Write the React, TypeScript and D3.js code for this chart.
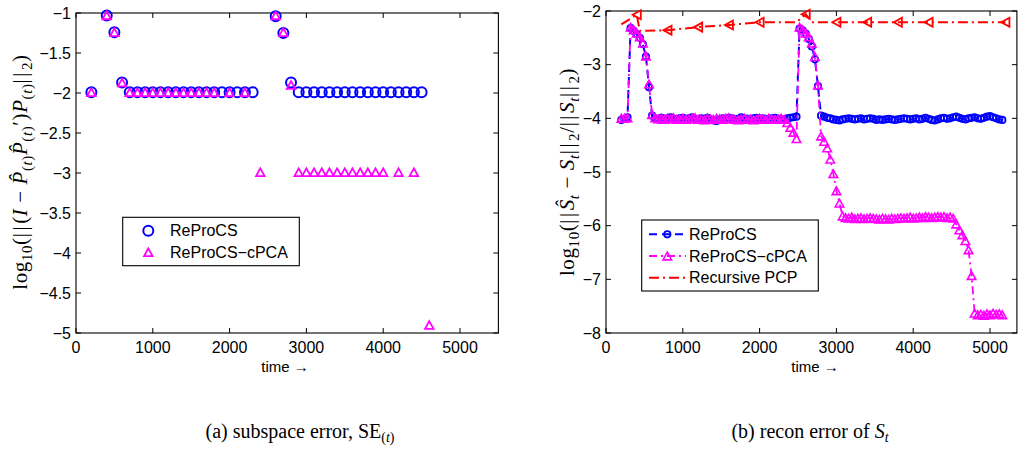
import React from 'react';
import * as d3 from 'd3';

// ---------- Panel (a): subspace error ----------
const seTimesReProCS = [200, 400, 500, 600, 700, 800, 900, 1000, 1100, 1200, 1300, 1400, 1500, 1600, 1700, 1800, 1900, 2000, 2100, 2200, 2300,
  2600, 2700, 2800, 2900, 3000, 3100, 3200, 3300, 3400, 3500, 3600, 3700, 3800, 3900, 4000, 4100, 4200, 4300, 4400, 4500];
const seValsReProCS = [-1.99, -1.03, -1.24, -1.87, -1.99, -1.99, -1.99, -1.99, -1.99, -1.99, -1.99, -1.99, -1.99, -1.99, -1.99, -1.99, -1.99, -1.99, -1.99, -1.99, -1.99,
  -1.04, -1.25, -1.87, -1.99, -1.99, -1.99, -1.99, -1.99, -1.99, -1.99, -1.99, -1.99, -1.99, -1.99, -1.99, -1.99, -1.99, -1.99, -1.99, -1.99];
const seTimesCPCA = [200, 400, 500, 600, 700, 800, 900, 1000, 1100, 1200, 1300, 1400, 1500, 1600, 1700, 1800, 2000, 2200, 2400,
  2600, 2700, 2800, 2900, 3000, 3100, 3200, 3300, 3400, 3500, 3600, 3700, 3800, 3900, 4000, 4200, 4400, 4600];
const seValsCPCA = [-1.99, -1.03, -1.24, -1.87, -1.99, -1.99, -1.99, -1.99, -1.99, -1.99, -1.99, -1.99, -1.99, -1.99, -1.99, -1.99, -1.99, -1.99, -2.99,
  -1.03, -1.24, -1.9, -2.99, -2.99, -2.99, -2.99, -2.99, -2.99, -2.99, -2.99, -2.99, -2.99, -2.99, -2.99, -2.99, -2.99, -4.9];

// ---------- Panel (b): recon error ----------
const reconTimes = d3.range(200, 5161, 40);
const reconReProCS = [
  -4.03, -4.01, -3.98, -2.32, -2.37, -2.43, -2.50, -2.62, -2.85, -3.42, -3.95,
  -4.00, -4.02, -3.99, -4.01, -4.00, -3.98, -4.01, -4.02, -4.00, -3.99,
  -4.01, -4.00, -3.98, -4.01, -4.03, -4.00, -4.01, -3.99, -4.02, -4.04,
  -4.05, -4.02, -4.00, -4.01, -3.99, -4.00, -4.02, -4.01, -3.98, -4.00,
  -4.01, -4.02, -4.00, -3.99, -4.01, -4.00, -4.02, -4.01, -4.00, -3.99,
  -4.01, -4.03, -4.02, -4.00, -3.99, -3.98, -3.97,
  -2.33, -2.36, -2.42, -2.52, -2.66, -2.90, -3.40, -3.95,
  -3.97, -3.99, -4.00, -4.02, -4.03, -4.04, -4.02, -4.01, -4.00, -4.01,
  -4.02, -4.01, -4.00, -4.02, -4.01, -4.00, -4.01, -4.03, -4.02, -4.03,
  -4.02, -4.01, -4.02, -4.03, -4.02, -4.01, -4.00, -4.01, -4.02, -4.01,
  -4.00, -4.02, -4.01, -3.99, -4.01, -4.03, -4.04, -4.02, -4.00, -3.99,
  -4.01, -4.00, -3.98, -3.97, -3.99, -4.01, -4.02, -4.00, -3.99, -3.98,
  -4.00, -4.01, -3.99, -3.97, -3.96, -3.98, -4.00, -4.02, -4.03,
];
const reconCPCA = [
  -4.00, -4.00, -3.99, -2.30, -2.35, -2.41, -2.48, -2.60, -2.84, -3.36, -3.93,
  -3.99, -4.01, -4.00, -4.02, -4.00, -4.01, -3.99, -4.02, -4.01, -4.00,
  -4.02, -4.01, -4.00, -3.99, -4.02, -4.01, -4.03, -4.00, -4.01, -4.02,
  -4.00, -4.01, -4.02, -4.00, -3.99, -4.01, -4.02, -4.03, -4.01, -4.00,
  -4.02, -4.01, -4.03, -4.02, -4.00, -4.01, -4.02, -4.00, -4.01, -4.02,
  -4.01, -4.00, -4.02,
  -4.08, -4.17, -4.26, -4.38,
  -2.30, -2.35, -2.41, -2.48, -2.60, -2.85, -3.38,
  -4.33, -4.43, -4.55, -4.76, -5.03, -5.35, -5.58, -5.82,
  -5.85, -5.86, -5.84, -5.87, -5.86, -5.85, -5.87, -5.86, -5.85, -5.86,
  -5.87, -5.88, -5.86, -5.87, -5.88, -5.86, -5.87, -5.86, -5.85, -5.86,
  -5.85, -5.84, -5.86, -5.85, -5.84, -5.85, -5.83, -5.84, -5.85, -5.84,
  -5.83, -5.84, -5.83, -5.85, -5.84, -5.86,
  -5.97, -6.08, -6.17, -6.28, -6.45, -6.93, -7.63,
  -7.66, -7.65, -7.67, -7.64, -7.66, -7.63, -7.65, -7.64, -7.66,
];
const rpcpTimes = [200, 400, 440, 800, 1200, 1600, 2000, 2480, 2600, 2680, 3000, 3400, 3800, 4200, 5200];
const rpcpVals = [-2.25, -2.07, -2.37, -2.36, -2.30, -2.26, -2.21, -2.21, -2.06, -2.21, -2.21, -2.21, -2.21, -2.21, -2.21];
const rpcpMarkerTimes = [400, 800, 1200, 1600, 2000, 2600, 3000, 3400, 3800, 4200, 5200];

const xTicks = [0, 1000, 2000, 3000, 4000, 5000];
const yTicksA = [-5, -4.5, -4, -3.5, -3, -2.5, -2, -1.5, -1];
const yTicksB = [-8, -7, -6, -5, -4, -3, -2];

const BLUE = '#0000ff';
const MAG = '#ff00ff';
const RED = '#ff0000';
const SANS = '"Liberation Sans", Arial, Helvetica, sans-serif';
const SERIF = '"Liberation Serif", "Times New Roman", serif';

type Pt = { t: number; v: number };
const zip = (ts: number[], vs: number[]): Pt[] => ts.map((t, i) => ({ t, v: vs[i] }));

const fmtTick = (v: number) => String(v).replace('-', '\u2212');

function triUp(s: number) {
  const h = s * 0.9;
  return `M0,${-h / 2}L${s / 2},${h / 2}L${-s / 2},${h / 2}Z`;
}
function triLeft(s: number) {
  const h = s * 0.9;
  return `M${-h / 2},0L${h / 2},${-s / 2}L${h / 2},${s / 2}Z`;
}

function Axes({ x, y, yTicks }: { x: d3.ScaleLinear<number, number>; y: d3.ScaleLinear<number, number>; yTicks: number[] }) {
  const [x0, x1] = x.range();
  const [y0, y1] = y.range(); // y0 bottom, y1 top
  const tl = 5;
  return (
    <g>
      <rect x={x0} y={y1} width={x1 - x0} height={y0 - y1} fill="none" stroke="#000" strokeWidth={1.1} />
      {xTicks.map((t) => (
        <g key={'x' + t}>
          <line x1={x(t)} x2={x(t)} y1={y0} y2={y0 - tl} stroke="#000" strokeWidth={1} />
          <line x1={x(t)} x2={x(t)} y1={y1} y2={y1 + tl} stroke="#000" strokeWidth={1} />
          <text x={x(t)} y={y0 + 20} textAnchor="middle" fontFamily={SANS} fontSize={16}>{fmtTick(t)}</text>
        </g>
      ))}
      {yTicks.map((t) => (
        <g key={'y' + t}>
          <line x1={x0} x2={x0 + tl} y1={y(t)} y2={y(t)} stroke="#000" strokeWidth={1} />
          <line x1={x1} x2={x1 - tl} y1={y(t)} y2={y(t)} stroke="#000" strokeWidth={1} />
          <text x={x0 - 5} y={y(t) + 5.5} textAnchor="end" fontFamily={SANS} fontSize={16}>{fmtTick(t)}</text>
        </g>
      ))}
      <text x={(x(0) + x(5000)) / 2 + 17} y={372} textAnchor="middle" fontFamily={SANS} fontSize={15}>time →</text>
    </g>
  );
}

export default function App() {
  const LX = d3.scaleLinear().domain([0, 5500]).range([76, 498.4]);
  const LY = d3.scaleLinear().domain([-5, -1]).range([333, 13]);
  const RX = d3.scaleLinear().domain([0, 5350]).range([606, 1016.9]);
  const RY = d3.scaleLinear().domain([-8, -2]).range([333, 11]);

  const seA = zip(seTimesReProCS, seValsReProCS);
  const seB = zip(seTimesCPCA, seValsCPCA);
  const rA = zip(reconTimes, reconReProCS);
  const rB = zip(reconTimes, reconCPCA);
  const rC = zip(rpcpTimes, rpcpVals);
  const rCm = rC.filter((p) => rpcpMarkerTimes.includes(p.t));

  const lineR = d3.line<Pt>().x((p) => RX(p.t)).y((p) => RY(p.v));

  const sub = 15;
  const ds = 5;
  const ls = 0.6;
  const N = (k: string) => <tspan letterSpacing={2.5}>{k}</tspan>;
  return (
    <svg width={1019} height={456} style={{ position: 'absolute', left: 0, top: 0, background: '#fff' }}>
      <rect width={1019} height={456} fill="#fff" />
      {/* Panel (a) */}
      <Axes x={LX} y={LY} yTicks={yTicksA} />
      {seA.map((p, i) => (
        <circle key={'sa' + i} cx={LX(p.t)} cy={LY(p.v)} r={5} fill="none" stroke={BLUE} strokeWidth={2} />
      ))}
      {seB.map((p, i) => (
        <path key={'sb' + i} d={triUp(8.5)} transform={`translate(${LX(p.t)},${LY(p.v)})`} fill="none" stroke={MAG} strokeWidth={1.8} />
      ))}
      {/* legend a */}
      <rect x={122.7} y={217.3} width={176.6} height={48.4} fill="#fff" stroke="#000" strokeWidth={1.1} />
      <circle cx={148.3} cy={230.7} r={5} fill="none" stroke={BLUE} strokeWidth={2} />
      <text x={170} y={236.3} fontFamily={SANS} fontSize={16}>ReProCS</text>
      <path d={triUp(8.5)} transform="translate(148.3,252.3)" fill="none" stroke={MAG} strokeWidth={1.8} />
      <text x={170} y={258} fontFamily={SANS} fontSize={16}>ReProCS−cPCA</text>
      {/* y label a */}
      <text transform="translate(27,172) rotate(-90)" textAnchor="middle" fontFamily={SERIF} fontSize={21} letterSpacing={ls}>
        <tspan>log</tspan>
        <tspan dy={ds} fontSize={sub}>10</tspan>
        <tspan dy={-ds}>(</tspan>
        {N('||')}
        <tspan>(</tspan>
        <tspan fontStyle="italic">I</tspan>
        <tspan> − </tspan>
        <tspan fontStyle="italic">P̂</tspan>
        <tspan dy={ds} fontSize={sub}>(</tspan>
        <tspan fontSize={sub} fontStyle="italic">t</tspan>
        <tspan fontSize={sub}>)</tspan>
        <tspan dy={-ds} fontStyle="italic">P̂</tspan>
        <tspan dy={ds} fontSize={sub}>(</tspan>
        <tspan fontSize={sub} fontStyle="italic">t</tspan>
        <tspan fontSize={sub}>)</tspan>
        <tspan dy={-ds}>′)</tspan>
        <tspan fontStyle="italic">P</tspan>
        <tspan dy={ds} fontSize={sub}>(</tspan>
        <tspan fontSize={sub} fontStyle="italic">t</tspan>
        <tspan fontSize={sub}>)</tspan>
        <tspan dy={-ds} letterSpacing={2.5}>||</tspan>
        <tspan dy={ds} fontSize={sub}>2</tspan>
        <tspan dy={-ds}>)</tspan>
      </text>

      {/* Panel (b) */}
      <Axes x={RX} y={RY} yTicks={yTicksB} />
      <path d={lineR(rA) || ''} fill="none" stroke={BLUE} strokeWidth={2} strokeDasharray="8,5" />
      {rA.map((p, i) => (
        <circle key={'ra' + i} cx={RX(p.t)} cy={RY(p.v)} r={3.2} fill="none" stroke={BLUE} strokeWidth={1.8} />
      ))}
      <path d={lineR(rB) || ''} fill="none" stroke={MAG} strokeWidth={1.8} strokeDasharray="8,4,2,4" />
      {rB.map((p, i) => (
        <path key={'rb' + i} d={triUp(8.5)} transform={`translate(${RX(p.t)},${RY(p.v)})`} fill="none" stroke={MAG} strokeWidth={1.6} />
      ))}
      <path d={lineR(rC) || ''} fill="none" stroke={RED} strokeWidth={2} strokeDasharray="10,4,2,4" />
      {rCm.map((p, i) => (
        <path key={'rc' + i} d={triLeft(9)} transform={`translate(${RX(p.t)},${RY(p.v)})`} fill="none" stroke={RED} strokeWidth={1.8} />
      ))}
      {/* legend b */}
      <rect x={641.7} y={220} width={176.6} height={71} fill="#fff" stroke="#000" strokeWidth={1.1} />
      <line x1={649} x2={686} y1={234.3} y2={234.3} stroke={BLUE} strokeWidth={2} strokeDasharray="8,5" />
      <circle cx={667.3} cy={234.3} r={3.2} fill="none" stroke={BLUE} strokeWidth={1.8} />
      <text x={689} y={240} fontFamily={SANS} fontSize={16}>ReProCS</text>
      <line x1={649} x2={686} y1={256} y2={256} stroke={MAG} strokeWidth={1.8} strokeDasharray="8,4,2,4" />
      <path d={triUp(8.5)} transform="translate(667.3,256)" fill="none" stroke={MAG} strokeWidth={1.6} />
      <text x={689} y={261.7} fontFamily={SANS} fontSize={16}>ReProCS−cPCA</text>
      <line x1={649} x2={686} y1={277.7} y2={277.7} stroke={RED} strokeWidth={2} strokeDasharray="10,4,2,4" />
      <text x={689} y={283.4} fontFamily={SANS} fontSize={16}>Recursive PCP</text>
      {/* y label b */}
      <text transform="translate(574,172) rotate(-90)" textAnchor="middle" fontFamily={SERIF} fontSize={21} letterSpacing={ls}>
        <tspan>log</tspan>
        <tspan dy={ds} fontSize={sub}>10</tspan>
        <tspan dy={-ds}>(</tspan>
        {N('||')}
        <tspan fontStyle="italic">Ŝ</tspan>
        <tspan dy={ds} fontSize={sub} fontStyle="italic">t</tspan>
        <tspan dy={-ds}> − </tspan>
        <tspan fontStyle="italic">S</tspan>
        <tspan dy={ds} fontSize={sub} fontStyle="italic">t</tspan>
        <tspan dy={-ds} letterSpacing={2.5}>||</tspan>
        <tspan dy={ds} fontSize={sub}>2</tspan>
        <tspan dy={-ds}>/</tspan>
        {N('||')}
        <tspan fontStyle="italic">S</tspan>
        <tspan dy={ds} fontSize={sub} fontStyle="italic">t</tspan>
        <tspan dy={-ds} letterSpacing={2.5}>||</tspan>
        <tspan dy={ds} fontSize={sub}>2</tspan>
        <tspan dy={-ds}>)</tspan>
      </text>

      {/* captions */}
      <text x={300} y={438} textAnchor="middle" fontFamily={SERIF} fontSize={20}>
        <tspan>(a) subspace error, SE</tspan>
        <tspan dy={4} fontSize={14}>(</tspan>
        <tspan fontSize={14} fontStyle="italic">t</tspan>
        <tspan fontSize={14}>)</tspan>
      </text>
      <text x={810} y={438} textAnchor="middle" fontFamily={SERIF} fontSize={20}>
        <tspan>(b) recon error of </tspan>
        <tspan fontStyle="italic">S</tspan>
        <tspan dy={4} fontSize={14} fontStyle="italic">t</tspan>
      </text>
    </svg>
  );
}
